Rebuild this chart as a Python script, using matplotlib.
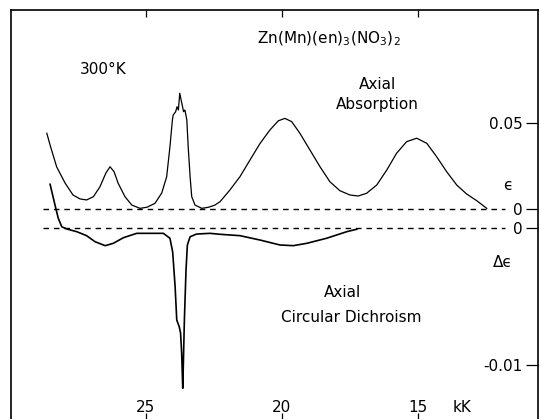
import matplotlib
matplotlib.use("Agg")
import matplotlib.pyplot as plt

# Axial absorption, Zn(Mn)(en)3(NO3)2 at 300 K  (wavenumber in kK, epsilon)
abs_kk = [28.63, 28.51, 28.27, 27.96, 27.67, 27.41, 27.17, 26.92, 26.68, 26.46,
          26.31, 26.16, 26.01, 25.76, 25.51, 25.21, 24.96, 24.66, 24.41, 24.23,
          24.11, 24.02, 23.99, 23.90, 23.85, 23.80, 23.75, 23.70, 23.66, 23.61,
          23.56, 23.49, 23.44, 23.37, 23.31, 23.19, 22.94, 22.70, 22.46, 22.27,
          21.91, 21.54, 21.17, 20.80, 20.44, 20.13, 19.89, 19.64, 19.34, 18.97,
          18.60, 18.24, 17.87, 17.50, 17.20, 16.89, 16.52, 16.15, 15.79, 15.42,
          15.05, 14.68, 14.32, 13.95, 13.58, 13.22, 12.85, 12.48]
abs_eps = [0.0440, 0.0371, 0.0244, 0.0149, 0.0079, 0.0056, 0.0050, 0.0069, 0.0127, 0.0208,
           0.0244, 0.0215, 0.0147, 0.0069, 0.0020, 0.0001, 0.0007, 0.0030, 0.0091, 0.0186,
           0.0361, 0.0518, 0.0547, 0.0566, 0.0595, 0.0576, 0.0674, 0.0635, 0.0605, 0.0566,
           0.0576, 0.0518, 0.0361, 0.0186, 0.0069, 0.0020, 0.0001, 0.0007, 0.0020, 0.0040,
           0.0108, 0.0186, 0.0284, 0.0381, 0.0459, 0.0513, 0.0527, 0.0508, 0.0440, 0.0342,
           0.0244, 0.0157, 0.0104, 0.0079, 0.0073, 0.0089, 0.0137, 0.0225, 0.0323, 0.0391,
           0.0411, 0.0381, 0.0303, 0.0215, 0.0137, 0.0085, 0.0046, 0.0001]

# Axial circular dichroism (delta epsilon)
cd_kk = [28.51, 28.33, 28.21, 28.08, 27.90, 27.53, 27.17, 26.86, 26.49, 26.19,
         25.82, 25.33, 24.84, 24.35, 24.11, 24.01, 23.92, 23.86, 23.77, 23.72,
         23.68, 23.64, 23.62, 23.58, 23.52, 23.47, 23.37, 23.13, 22.64, 22.27,
         21.54, 20.80, 20.07, 19.58, 19.09, 18.36, 17.62, 17.25]
cd_deps = [0.00319, 0.00168, 0.00071, 0.00009, -0.00007, -0.00027, -0.00056, -0.00100, -0.00129, -0.00112,
           -0.00071, -0.00039, -0.00039, -0.00039, -0.00075, -0.00175, -0.00428, -0.00672, -0.00720, -0.00766,
           -0.00912, -0.01170, -0.01012, -0.00672, -0.00307, -0.00124, -0.00064, -0.00044, -0.00039, -0.00046,
           -0.00056, -0.00088, -0.00124, -0.00129, -0.00112, -0.00075, -0.00027, -0.00009]

x_ticks = [25, 20, 15]
abs_ticks = [0, 0.05]
abs_ticklabels = ["0", "0.05"]
cd_ticks = [0, -0.01]
cd_ticklabels = ["0", "-0.01"]

plt.rcParams["font.family"] = ["DejaVu Sans"]
plt.rcParams["font.size"] = 11

fig = plt.figure(figsize=(5.4, 4.19), dpi=100)
ax = fig.add_axes([11 / 540, -1 / 419, 527 / 540, 410 / 419])
ax2 = ax.twinx()

dash = (0, (4, 3.5))
ax.plot(abs_kk, abs_eps, color="black", lw=0.9)
ax.hlines(0, 28.77, 11.8, color="black", lw=1.0, linestyle=dash)
ax2.plot(cd_kk, cd_deps, color="black", lw=1.2)
ax2.hlines(0, 28.77, 11.8, color="black", lw=1.0, linestyle=dash)

ax.set_xlim(29.945, 10.598)
ax.set_ylim(-0.12368, 0.11608)
ax2.set_ylim(-0.014015, 0.015912)

# x ticks: inward on top and bottom, labels sit inside the frame
ax.set_xticks(x_ticks, [str(t) for t in x_ticks])
ax.tick_params(axis="x", which="both", direction="in", top=True, bottom=True,
               length=5, width=0.9, pad=-5.8)
for lbl in ax.get_xticklabels():
    lbl.set_va("baseline")

# y ticks on the right spine, labels drawn inside
ax.yaxis.tick_right()
ax.set_yticks(abs_ticks, abs_ticklabels)
ax2.set_yticks(cd_ticks, cd_ticklabels)
for a in (ax, ax2):
    a.tick_params(axis="y", direction="in", length=9, width=0.9, pad=-11,
                  left=False, labelleft=False)
    for lbl in a.yaxis.get_majorticklabels():
        lbl.set_ha("right")

for s in ax.spines.values():
    s.set_linewidth(1.2)
for s in ax2.spines.values():
    s.set_visible(False)

ax.text(0.1746, 0.8537, "300°K", transform=ax.transAxes, ha="center", va="center")
ax.text(0.4668, 0.9195, r"Zn(Mn)(en)$_3$(NO$_3$)$_2$", transform=ax.transAxes,
        ha="left", va="baseline")
ax.text(0.6945, 0.8073, "Axial", transform=ax.transAxes, ha="center", va="baseline")
ax.text(0.6945, 0.7585, "Absorption", transform=ax.transAxes, ha="center", va="baseline")
ax.text(0.6281, 0.300, "Axial", transform=ax.transAxes, ha="center", va="baseline")
ax.text(0.6452, 0.239, "Circular Dichroism", transform=ax.transAxes, ha="center", va="baseline")
ax.text(0.943, 0.573, "ϵ", transform=ax.transAxes, ha="center", va="center")
ax.text(0.9336, 0.385, "Δϵ", transform=ax.transAxes, ha="center", va="center")
ax.text(0.8558, 0.0195, "kK", transform=ax.transAxes, ha="center", va="baseline")

fig.savefig("out.png", dpi=100)
plt.close(fig)
